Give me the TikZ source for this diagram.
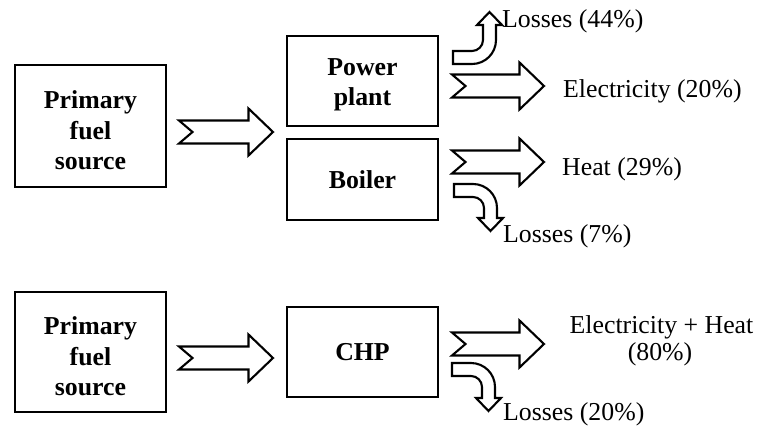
\documentclass[tikz,border=0pt]{standalone}
\usepackage{fontspec}
\setmainfont{Liberation Serif}
\newcommand\fatarrow[3]{%
  \draw[fat] ({#1},{#3-11.5}) -- ({#2-24.5},{#3-11.5}) -- ({#2-24.5},{#3-23.5})
    -- ({#2},{#3}) -- ({#2-24.5},{#3+23.5}) -- ({#2-24.5},{#3+11.5})
    -- ({#1},{#3+11.5}) -- ({#1+13.5},{#3}) -- cycle;}
\newcommand\bentarrow[4]{%
  \draw[fat] ({#1},{#2}) -- ({#1+19},{#2})
    .. controls ({#1+32.25},{#2}) and ({#1+43},{#2+(#3)*10.75}) .. ({#1+43},{#2+(#3)*24})
    -- ({#1+43},{#2+(#3)*(#4)}) -- ({#1+49},{#2+(#3)*(#4)})
    -- ({#1+36.5},{#2+(#3)*(#4+13)}) -- ({#1+24},{#2+(#3)*(#4)})
    -- ({#1+30},{#2+(#3)*(#4)}) -- ({#1+30},{#2+(#3)*24})
    .. controls ({#1+30},{#2+(#3)*17.92}) and ({#1+25.08},{#2+(#3)*13}) .. ({#1+19},{#2+(#3)*13})
    -- ({#1},{#2+(#3)*13}) -- cycle;}
\begin{document}
\begin{tikzpicture}[x=1pt,y=-1pt,
  box/.style={draw, line width=1.4pt, minimum width=151pt, minimum height=#1,
    inner sep=0pt, align=center, font=\bfseries\fontsize{25.8}{30.5}\selectfont},
  fat/.style={draw, line width=2.1pt, fill=white, line join=miter},
  lbl/.style={font=\fontsize{25.8}{30.5}\selectfont, inner sep=0pt, anchor=base west}]
\useasboundingbox (0,0) rectangle (760,428);
% top scheme
\node[box=122pt] (pf1) at (90.5,126) {\rule{0pt}{27pt}Primary\\fuel\\source};
\node[box=90pt] (pp) at (362.5,81) {\rule{0pt}{24pt}Power\\plant};
\node[box=81pt] (bo) at (362.5,179.5) {Boiler};
\fatarrow{179}{273}{132}
\fatarrow{452}{544}{86}
\fatarrow{452}{544}{162}
\bentarrow{453}{64}{-1}{39}
\bentarrow{454}{184}{1}{34}
\node[lbl] (l44) at (502,28) {Losses (44\%)};
\node[lbl] (el) at (563,97) {Electricity (20\%)};
\node[lbl] (ht) at (562,175) {Heat (29\%)};
\node[lbl] (l7) at (503,242) {Losses (7\%)};
% bottom scheme
\node[box=120pt] (pf2) at (90.5,352) {\rule{0pt}{27pt}Primary\\fuel\\source};
\node[box=90pt] (chp) at (362.5,352) {CHP};
\fatarrow{179}{273}{358}
\fatarrow{452}{544}{344}
\bentarrow{452}{363}{1}{35}
\node[lbl, anchor=base] (eh1) at (661.5,333) {Electricity + Heat};
\node[lbl, anchor=base] (eh2) at (660,360) {(80\%)};
\node[lbl] (l20) at (503,420) {Losses (20\%)};
\end{tikzpicture}
\end{document}
